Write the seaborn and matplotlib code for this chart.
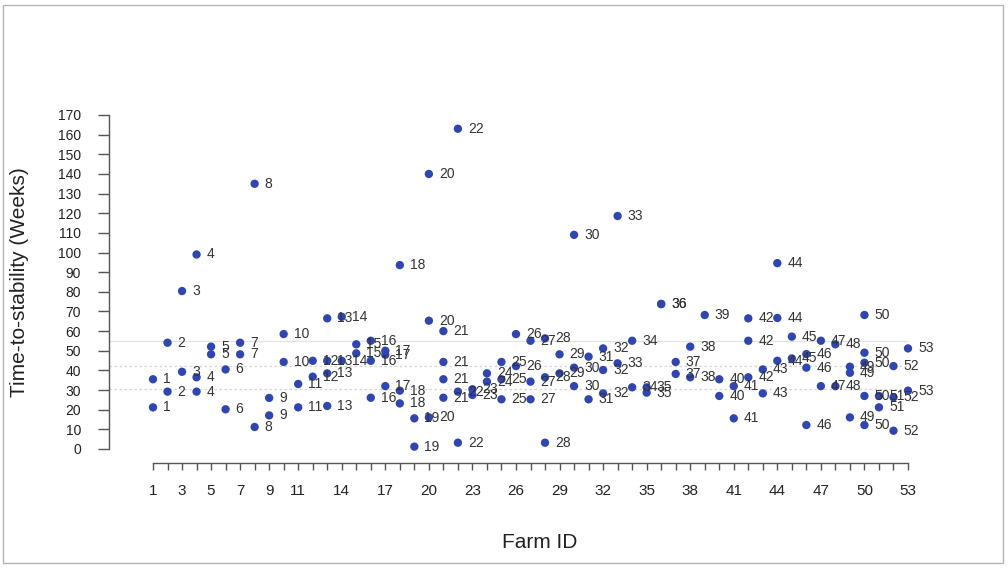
import matplotlib
matplotlib.use("Agg")
import matplotlib.pyplot as plt
from matplotlib.patches import Rectangle
import pandas as pd
import seaborn as sns

# one entry per observation: farm id and time-to-stability (weeks)
farm_id = [1, 1, 2, 2, 3, 3, 4, 4, 4, 5, 5, 6, 6, 7, 7, 8, 8, 9, 9, 10, 10,
           11, 11, 12, 12, 13, 13, 13, 13, 14, 14, 15, 15, 16, 16, 16,
           17, 17, 17, 18, 18, 18, 19, 19, 20, 20, 20, 21, 21, 21, 21,
           22, 22, 22, 23, 23, 24, 24, 25, 25, 25, 26, 26, 27, 27, 27,
           28, 28, 28, 29, 29, 30, 30, 30, 31, 31, 32, 32, 32, 33, 33,
           34, 34, 35, 35, 36, 36, 37, 37, 38, 38, 39, 40, 40, 41, 41,
           42, 42, 42, 43, 43, 44, 44, 44, 45, 45, 46, 46, 46, 47, 47,
           48, 48, 49, 49, 49, 50, 50, 50, 50, 50, 51, 51, 52, 52, 52,
           53, 53]
weeks = [35.5, 21.2, 54.1, 29.2, 80.4, 39.3, 99, 36.5, 29.2, 52.1, 48.2,
         40.5, 20.2, 54.1, 48.2, 135, 11.2, 26, 17.1, 58.5, 44.3,
         33.1, 21.2, 44.9, 36.8, 66.5, 44.9, 38.5, 21.9, 67.3, 44.9,
         53.3, 48.7, 55.1, 44.9, 26.1,
         50, 48, 32, 93.6, 29.7, 23.2, 15.6, 1.2, 140, 65.3, 16.1,
         60, 44.3, 35.5, 26.1,
         163, 29.2, 3.2, 30.4, 27.5, 38.5, 34.3, 44.3, 35.5, 25.3,
         58.5, 42.2, 55.1, 34.3, 25.3,
         56.3, 36.5, 3.2, 48.2, 38.5, 109, 41.4, 32, 47, 25.3,
         51.2, 40.2, 28.3, 118.6, 43.6,
         55.1, 31.4, 31.4, 28.7, 73.8, 73.8, 44.3, 38.2, 52.1, 36.5,
         68.2, 35.5, 27, 32, 15.6,
         66.5, 55.1, 36.5, 40.5, 28.3, 94.6, 66.7, 44.9, 57.2, 46.1,
         48.3, 41.4, 12.2, 55.1, 32,
         53.3, 32, 41.9, 38.8, 16.1, 68.2, 49, 43.9, 27, 12.2,
         27, 21.2, 42.2, 26.3, 9.3,
         51.2, 29.7]

x_tick_labels = [1, 3, 5, 7, 9, 11, 14, 17, 20, 23, 26, 29, 32, 35, 38,
                 41, 44, 47, 50, 53]
ref_lines = [55, 42, 30.5]

df = pd.DataFrame({"Farm ID": farm_id, "Weeks": weeks})

sns.set_style("white")
plt.rcParams["font.family"] = ["Liberation Sans", "DejaVu Sans"]

W, H = 1008, 569
fig = plt.figure(figsize=(W / 100, H / 100), dpi=100)

# axes box in pixels (top-down)
L, R, T, B = 109, 990, 115, 463
ax = fig.add_axes([L / W, 1 - B / H, (R - L) / W, (B - T) / H])

# pixel positions of x=1, x=53, y=0, y=170
x1, x53, y0, y170 = 153, 908, 449, 115
ux = (x53 - x1) / 52
uy = (y0 - y170) / 170
ax.set_xlim(1 - (x1 - L) / ux, 53 + (R - x53) / ux)
ax.set_ylim(-(B - y0) / uy, 170)

for i, yv in enumerate(ref_lines):
    ax.hlines(yv, ax.get_xlim()[0], 53, colors="#e3e3e3" if i == 0 else "#d6d6d6",
              linestyles="-" if i == 0 else (0, (2, 2)), lw=0.9, zorder=1)

sns.scatterplot(data=df, x="Farm ID", y="Weeks", color="#2f45b0", s=36,
                edgecolor="none", ax=ax, zorder=3, legend=False)

for f, w in zip(farm_id, weeks):
    ax.annotate(str(f), (f, w), xytext=(10, 0), textcoords="offset pixels",
                va="center", ha="left", fontsize=10, color="#333333", zorder=4)

for s in ["top", "right"]:
    ax.spines[s].set_visible(False)
ax.spines["left"].set_bounds(0, 170)
ax.spines["bottom"].set_bounds(1, 53)
for s in ["left", "bottom"]:
    ax.spines[s].set_color("#555555")
    ax.spines[s].set_linewidth(1)

ax.set_yticks(range(0, 171, 10))
ax.set_xticks(range(1, 54))
ax.set_xticklabels([str(i) if i in x_tick_labels else "" for i in range(1, 54)])
ax.tick_params(axis="y", direction="out", length=8, width=1, color="#555555",
               labelsize=10, pad=12, labelcolor="#222222", left=True)
ax.tick_params(axis="x", direction="out", length=5, width=1, color="#555555",
               labelsize=11, pad=10, labelcolor="#222222", bottom=True)
ax.set_xlabel("")
ax.set_ylabel("")

fig.text(20 / W, 1 - 282 / H, "Time-to-stability (Weeks)", rotation=90,
         ha="center", va="center", fontsize=15, color="#222222")
fig.text(540 / W, 1 - 543 / H, "Farm ID", ha="center", va="center",
         fontsize=15, color="#222222")

fig.patches.append(Rectangle((3 / W, 1 - 563 / H), 1000 / W, 558 / H,
                             transform=fig.transFigure, fill=False,
                             edgecolor="#b5b5b5", lw=1))

fig.savefig("out.png", dpi=100)
